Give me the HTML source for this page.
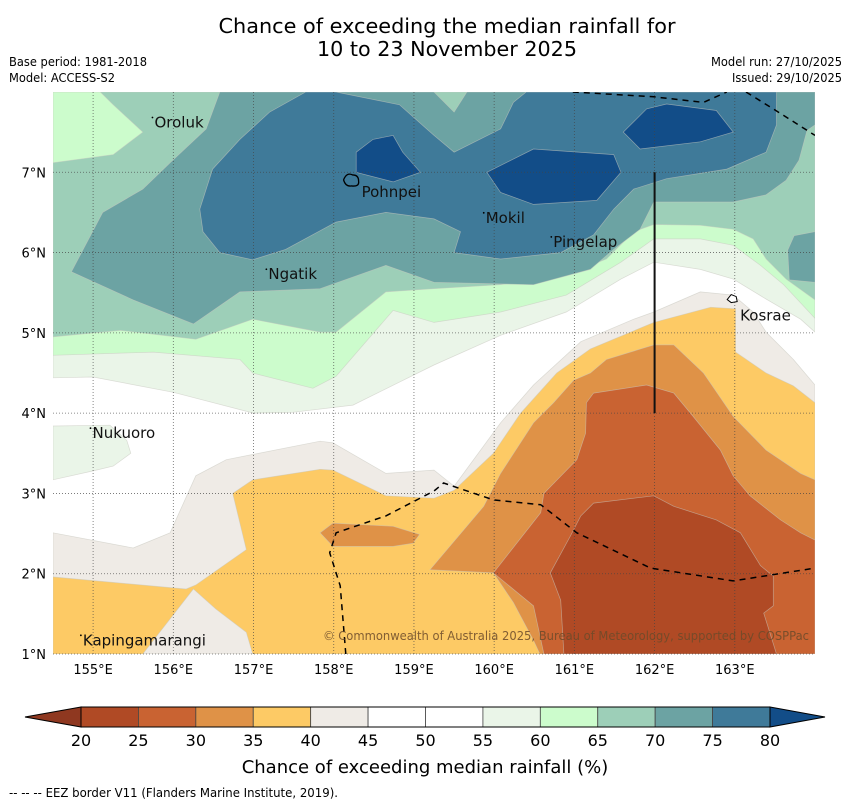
<!DOCTYPE html>
<html><head><meta charset="utf-8"><style>
html,body{margin:0;padding:0;background:#fff;}
svg{display:block;font-family:"DejaVu Sans","Liberation Sans",sans-serif;}
</style></head><body>
<svg id="chart" width="850" height="804" viewBox="0 0 850 804" xmlns="http://www.w3.org/2000/svg">
<text x="447" y="33" font-size="20" text-anchor="middle" textLength="457" lengthAdjust="spacingAndGlyphs">Chance of exceeding the median rainfall for</text>
<text x="447" y="56" font-size="20" text-anchor="middle" textLength="260" lengthAdjust="spacingAndGlyphs">10 to 23 November 2025</text>
<text x="9" y="66" font-size="12" textLength="138" lengthAdjust="spacingAndGlyphs">Base period: 1981-2018</text>
<text x="9" y="82" font-size="12" textLength="106" lengthAdjust="spacingAndGlyphs">Model: ACCESS-S2</text>
<text x="842" y="66" font-size="12" text-anchor="end" textLength="131" lengthAdjust="spacingAndGlyphs">Model run: 27/10/2025</text>
<text x="842" y="82" font-size="12" text-anchor="end" textLength="110" lengthAdjust="spacingAndGlyphs">Issued: 29/10/2025</text>
<defs><clipPath id="plotclip"><rect x="53" y="92" width="762" height="562"/></clipPath></defs>
<rect x="53" y="92" width="762" height="562" fill="#ffffff"/>
<g id="fills" clip-path="url(#plotclip)"></g>
<g id="grid"></g>
<g id="overlay" clip-path="url(#plotclip)"></g>
<g id="axes"></g>
<g id="cbar"></g>
<text x="425" y="773" font-size="18" text-anchor="middle">Chance of exceeding median rainfall (%)</text>
<text x="9" y="797" font-size="12" textLength="329" lengthAdjust="spacingAndGlyphs">--  --  -- EEZ border V11 (Flanders Marine Institute, 2019).</text>
</svg>
<script>
// ---- data ----
const lonTicks = [155,156,157,158,159,160,161,162,163];
const latTicks = [1,2,3,4,5,6,7];
const cbarLevels = [20,25,30,35,40,45,50,55,60,65,70,75,80];
const cbarColors = ["#b04a25","#c96332","#df9247","#fdca65","#efebe6","#ffffff","#ffffff","#eaf5e8","#ccfccc","#9dcfb8","#6ca3a3","#3f7a99"];
const cbarLowColor = "#8f3820";
const cbarHighColor = "#124d88";
// contour regions (lon, lat), painted in order
const p55 = [[154.5,8],[164,8],[164,5.01],[163.82,5.17],[163.39,5.42],[162.98,5.67],[162.57,5.79],[161.99,5.88],[161.58,5.67],[160.90,5.26],[160.08,4.97],[159.25,4.60],[158.24,4.10],[157.49,4.01],[157.0,4.0],[156.0,4.26],[155,4.45],[154.5,4.44]];
const p55b = [[154.5,3.84],[155.21,3.85],[155.42,3.66],[155.47,3.50],[155.25,3.34],[155,3.28],[154.5,3.17]];
const p60 = [[154.5,8],[164,8],[164,5.18],[163.61,5.60],[163.32,5.84],[162.98,6.09],[162.57,6.17],[161.99,6.17],[161.58,5.88],[160.90,5.47],[160.08,5.26],[159.25,5.13],[158.74,5.28],[158.03,4.46],[157.74,4.31],[156.99,4.50],[156.83,4.67],[155.75,4.76],[154.5,4.72]];
const p65 = [[155.09,8],[164,8],[164,5.41],[163.64,5.67],[163.39,5.92],[163.23,6.17],[162.98,6.29],[162.57,6.34],[161.99,6.35],[161.74,6.26],[161.40,5.92],[160.90,5.72],[160.08,5.60],[159.25,5.55],[158.65,5.51],[158.03,5.01],[157.83,5.01],[156.99,5.17],[156.28,4.92],[155.34,5.03],[154.5,4.95],[154.5,7.12],[155.25,7.22],[155.62,7.50],[155.25,7.84]];
const p70 = [[156.58,8],[164,8],[164,7.59],[163.9,7.52],[163.8,7.15],[163.64,6.90],[163.39,6.72],[162.98,6.63],[161.99,6.63],[161.82,6.29],[161.49,6.04],[161.20,5.79],[160.49,5.60],[159.25,5.63],[158.65,5.84],[157.83,5.55],[156.83,5.51],[156.25,5.11],[155.50,5.41],[154.73,5.76],[155.12,6.50],[155.62,6.79],[155.96,7.12],[156.41,7.54]];
const p70b = [[164,6.26],[163.74,6.21],[163.66,6.03],[163.68,5.66],[164,5.63]];
const p65top = [[159.25,8],[159.66,8],[159.5,7.75]];
const p75 = [[157.65,8],[158.03,8],[158.82,7.84],[159.25,7.46],[159.50,7.25],[160.08,7.54],[160.24,7.87],[160.40,8],[163.52,8],[163.52,7.59],[163.39,7.25],[162.90,7.04],[162.15,6.92],[161.74,6.79],[161.49,6.54],[161.24,6.22],[160.83,6.0],[160.08,5.92],[159.50,6.0],[159.58,6.26],[159.25,6.42],[158.65,6.50],[158.03,6.38],[157.40,6.04],[156.99,5.91],[156.58,6.0],[156.37,6.26],[156.33,6.54],[156.49,7.04],[156.83,7.41],[157.20,7.75]];
const p80a = [[158.28,7.25],[158.49,7.41],[158.74,7.46],[158.86,7.25],[159.08,7.0],[158.74,6.88],[158.28,7.0]];
const p80b = [[159.91,7.0],[160.49,7.29],[161.49,7.22],[161.58,7.0],[161.28,6.65],[160.49,6.60],[160.08,6.75]];
const p80c = [[161.61,7.50],[161.90,7.79],[162.15,7.85],[162.77,7.77],[162.98,7.50],[162.57,7.38],[161.82,7.29]];
const d45 = [[154.5,2.51],[155.50,2.32],[155.96,2.51],[156.28,3.22],[156.66,3.42],[157.83,3.65],[157.99,3.63],[158.65,3.25],[159.25,3.29],[159.50,3.09],[160.08,3.88],[160.49,4.35],[161.08,4.89],[161.74,5.17],[161.99,5.26],[162.57,5.51],[162.98,5.47],[163.23,5.26],[163.39,5.01],[163.73,4.67],[164,4.35],[164,1],[154.5,1]];
const d40 = [[154.5,1.96],[156.16,1.81],[156.28,1.86],[156.91,2.30],[156.74,3.0],[156.99,3.17],[157.83,3.30],[157.99,3.29],[158.65,2.97],[159.25,2.94],[159.50,3.04],[159.99,3.50],[160.33,4.0],[160.78,4.50],[161.20,4.80],[161.99,5.13],[162.70,5.32],[163.01,5.30],[163.01,4.76],[163.39,4.50],[163.73,4.34],[164,4.13],[164,1],[154.5,1]];
const d45b = [[156.25,1.81],[156.53,1.56],[156.91,1.27],[156.99,1.0],[155.62,1.0]];
const d35a = [[157.83,2.51],[157.99,2.63],[158.74,2.59],[159.07,2.49],[158.99,2.38],[158.74,2.34],[157.99,2.34]];
const d35 = [[159.20,2.05],[159.87,2.84],[160.08,3.25],[160.49,3.88],[160.74,4.13],[160.99,4.41],[161.20,4.50],[161.40,4.67],[161.99,4.85],[162.24,4.85],[162.61,4.50],[162.98,3.96],[163.39,3.54],[163.82,3.25],[164,3.17],[164,1],[160.57,1],[160.49,1.17],[160.24,1.64],[159.99,2.01]];
const d30 = [[161.24,4.25],[161.90,4.35],[162.24,4.25],[162.48,3.96],[162.82,3.54],[162.98,3.22],[163.19,2.97],[163.57,2.67],[163.82,2.51],[164,2.42],[164,1],[160.62,1],[160.49,1.60],[159.99,2.01],[160.58,2.76],[160.62,3.0],[161.03,3.42],[161.14,3.75],[161.15,4.13]];
const d25 = [[161.24,2.88],[161.99,2.97],[162.24,2.84],[162.77,2.67],[163.07,2.51],[163.32,2.10],[163.48,1.97],[163.48,1.60],[163.36,1.51],[163.52,1.0],[160.87,1.0],[160.83,1.67],[160.70,2.01],[160.95,2.47],[161.08,2.72]];
const eezTop = [[160.98,8],[161.99,7.94],[162.61,7.87],[162.90,8]];
const eezTopRight = [[163.14,8],[163.48,7.79],[164,7.46]];
const eezSouth = [[158.15,1],[158.08,1.85],[157.95,2.26],[158.03,2.51],[158.65,2.72],[159.25,3.03],[159.37,3.13],[159.99,2.92],[160.58,2.86],[161.03,2.51],[161.95,2.07],[162.98,1.91],[164,2.07]];
const boundaryLine = [[162,4],[162,7]];
const islandNames = ["Oroluk","Pohnpei","Mokil","Pingelap","Ngatik","Kosrae","Nukuoro","Kapingamarangi"];
const islandLon = [155.74,158.21,159.87,160.70,157.16,162.98,154.98,154.86];
const islandLat = [7.72,6.88,6.47,6.17,5.83,5.34,3.85,1.27];

// ---- scales ----
const X0=53, X1=815, Y0=92, Y1=654, LON0=154.5, LON1=164, LAT0=1, LAT1=8;
function xs(lon){return X0+(lon-LON0)/(LON1-LON0)*(X1-X0);}
function ys(lat){return Y1-(lat-LAT0)/(LAT1-LAT0)*(Y1-Y0);}
const NS="http://www.w3.org/2000/svg";
function mk(tag,attrs,parent){const e=document.createElementNS(NS,tag);for(const k in attrs)e.setAttribute(k,attrs[k]);parent.appendChild(e);return e;}
function pts(arr){return arr.map(p=>xs(p[0]).toFixed(1)+","+ys(p[1]).toFixed(1)).join(" ");}

const fills=document.getElementById("fills");
const layers=[
 [p55,"#eaf5e8","region-55-60"],[p55b,"#eaf5e8","region-55-60-nukuoro"],
 [p60,"#ccfccc","region-60-65"],[p65,"#9dcfb8","region-65-70"],
 [p70,"#6ca3a3","region-70-75"],[p70b,"#6ca3a3","region-70-75-east"],[p65top,"#9dcfb8","region-65-70-north"],
 [p75,"#3f7a99","region-75-80"],[p80a,"#124d88","region-above-80-pohnpei"],[p80b,"#124d88","region-above-80-mokil"],[p80c,"#124d88","region-above-80-north"],
 [d45,"#efebe6","region-40-45"],[d40,"#fdca65","region-35-40"],[d45b,"#efebe6","region-40-45-south"],
 [d35a,"#df9247","region-30-35-west"],[d35,"#df9247","region-30-35"],[d30,"#c96332","region-25-30"],[d25,"#b04a25","region-20-25"]
];
layers.forEach(l=>{
 const e=mk("polygon",{points:pts(l[0]),fill:l[1],stroke:"#c8c8c0","stroke-width":"0.7","stroke-opacity":"0.6"},fills);
 
 
});

// grid
const grid=document.getElementById("grid");
lonTicks.forEach(v=>{
 const e=mk("line",{x1:xs(v),x2:xs(v),y1:Y0,y2:Y1,stroke:"#444","stroke-width":"0.8","stroke-dasharray":"1,2","stroke-opacity":"0.8"},grid);
 
 
});
latTicks.forEach(v=>{
 const e=mk("line",{x1:X0,x2:X1,y1:ys(v),y2:ys(v),stroke:"#444","stroke-width":"0.8","stroke-dasharray":"1,2","stroke-opacity":"0.8"},grid);
 
 
});

// overlay lines and islands
const ov=document.getElementById("overlay");
[[eezTop,"eez-border-north"],[eezTopRight,"eez-border-northeast"],[eezSouth,"eez-border-south"]].forEach(l=>{
 const e=mk("polyline",{points:pts(l[0]),fill:"none",stroke:"#000","stroke-width":"1.5","stroke-dasharray":"6,5"},ov);
 
 
});
const bl=mk("polyline",{points:pts(boundaryLine),fill:"none",stroke:"#111","stroke-width":"2"},ov);


const ph=mk("path",{d:"M"+(xs(158.21)-7)+","+(ys(6.88)-2)+" q3,-8 9,-5 q6,0 6,6 q1,6 -7,5 q-6,1 -8,-6z",fill:"none",stroke:"#000","stroke-width":"1.3"},ov);


const ks=mk("path",{d:"M"+(xs(162.98)-6)+","+(ys(5.34)-6)+" l4,-5 l5,2 l1,5 l-6,1z",fill:"#fff",stroke:"#000","stroke-width":"1"},ov);


const labelDx=[2,11,2,3,2,7,1,1];
const labelDy=[13,15,8,8,13,15,13,13];
islandNames.forEach((n,i)=>{
 if(n!=="Pohnpei" && n!=="Kosrae"){
  const d=mk("circle",{cx:xs(islandLon[i])-2+labelDx[i],cy:ys(islandLat[i])-10+labelDy[i],r:"0.9",fill:"#000"},ov);
  
  
 }
 const t=mk("text",{x:xs(islandLon[i])+labelDx[i],y:ys(islandLat[i])+labelDy[i],"font-size":"15",fill:"#111"},ov);
 t.textContent=n;
 
 
});
const cp=mk("text",{x:809,y:640,"font-size":"12",fill:"#6b4a2a","fill-opacity":"0.85","text-anchor":"end",textLength:"486",lengthAdjust:"spacingAndGlyphs"},ov);
cp.textContent="© Commonwealth of Australia 2025, Bureau of Meteorology, supported by COSPPac";



// axes
const ax=document.getElementById("axes");
lonTicks.forEach(v=>{
 const t=mk("text",{x:xs(v),y:674,"font-size":"13","text-anchor":"middle"},ax);
 t.textContent=v+"°E";
 
 
});
latTicks.forEach(v=>{
 const t=mk("text",{x:46,y:ys(v)+5,"font-size":"13","text-anchor":"end"},ax);
 t.textContent=v+"°N";
 
 
});

// colorbar
const cb=document.getElementById("cbar");
const CB0=81, CB1=770, CBY=707, CBH=20;
function cx(v){return CB0+(v-cbarLevels[0])/(cbarLevels[cbarLevels.length-1]-cbarLevels[0])*(CB1-CB0);}
const lt=mk("polygon",{points:CB0+","+CBY+" 25,"+(CBY+CBH/2)+" "+CB0+","+(CBY+CBH),fill:cbarLowColor,stroke:"#000","stroke-width":"1"},cb);


const rt=mk("polygon",{points:CB1+","+CBY+" 825,"+(CBY+CBH/2)+" "+CB1+","+(CBY+CBH),fill:cbarHighColor,stroke:"#000","stroke-width":"1"},cb);


cbarColors.forEach((c,i)=>{
 const r=mk("rect",{x:cx(cbarLevels[i]),y:CBY,width:cx(cbarLevels[i+1])-cx(cbarLevels[i]),height:CBH,fill:c,stroke:"#444","stroke-width":"0.8"},cb);
 
 
});
const fr=mk("rect",{x:CB0,y:CBY,width:CB1-CB0,height:CBH,fill:"none",stroke:"#000","stroke-width":"1"},cb);


cbarLevels.forEach(v=>{
 const t=mk("text",{x:cx(v),y:746,"font-size":"16","text-anchor":"middle"},cb);
 t.textContent=v;
 
 
});
</script>
</body></html>
